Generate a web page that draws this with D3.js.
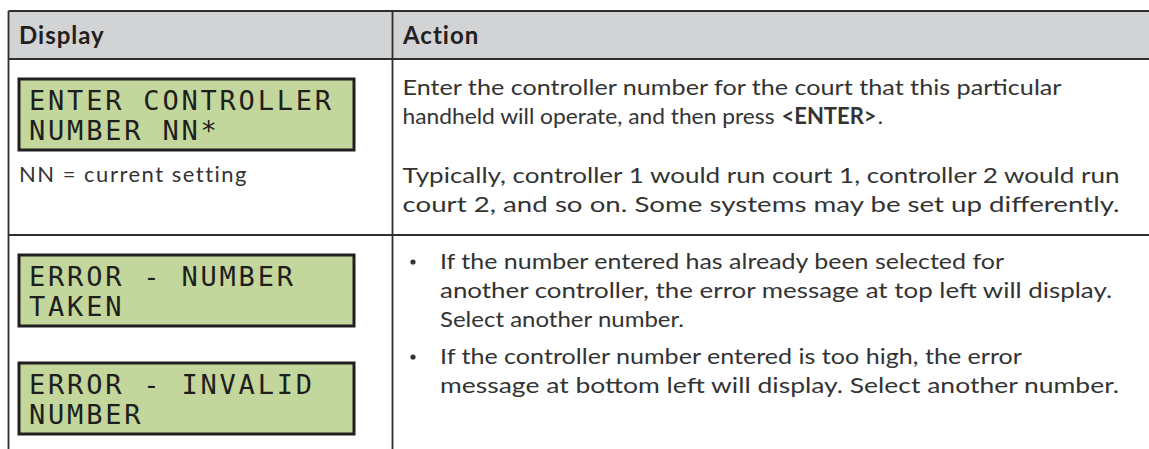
<!DOCTYPE html>
<html><head><meta charset="utf-8">
<script src="https://cdn.jsdelivr.net/npm/d3@7"></script>
<style>html,body{margin:0;padding:0;background:#fff;}svg{display:block;}</style>
</head><body>
<svg id="chart" width="1149" height="449"></svg>
<script>
// ---- content ----
const headers = ["Display", "Action"];
const lcdRow1 = [["ENTER CONTROLLER", "NUMBER NN*"]];
const lcdRow2 = [["ERROR - NUMBER", "TAKEN"], ["ERROR - INVALID", "NUMBER"]];
const noteRow1 = ["NN = current setting"];
const actionRow1 = [
  ["Enter the controller number for the court that this particular",
   ["handheld will operate, and then press", "<ENTER>", "."]],
  ["Typically, controller 1 would run court 1, controller 2 would run",
   "court 2, and so on. Some systems may be set up differently."]
];
const bulletsRow2 = [
  ["If the number entered has already been selected for",
   "another controller, the error message at top left will display.",
   "Select another number."],
  ["If the controller number entered is too high, the error",
   "message at bottom left will display. Select another number."]
];

// ---- layout (text run lengths in px, matching the typeset original) ----
const actionWidths = [[659, [372, 0, 0]], [717, 717]];
const bulletWidths = [[564, 672, 244], [582, 679]];
const W = 1149, H = 449;
const svg = d3.select("#chart");
const colX = [8.5, 392.5];
const rowY = [11, 59, 235];
const lineColor = "#2f2f2f";
const textColor = "#333";
const bodyFont = "Lato, 'Noto Sans', sans-serif";
const lcdFont = "'DejaVu Sans Mono', monospace";

// header band
svg.append("rect").attr("x", colX[0]).attr("y", rowY[0]).attr("width", W - colX[0] + 5)
  .attr("height", rowY[1] - rowY[0]).attr("fill", "#d1d3d4");

// grid lines
const g = svg.append("g").attr("stroke", lineColor).attr("stroke-width", 1.8);
rowY.forEach(y => g.append("line").attr("x1", colX[0]).attr("x2", W + 5).attr("y1", y).attr("y2", y));
colX.forEach(cx => g.append("line").attr("x1", cx).attr("x2", cx).attr("y1", rowY[0]).attr("y2", H + 5));

// header text
svg.selectAll("text.hdr").data(headers).join("text").attr("class", "hdr")
  .attr("x", (d, i) => colX[i] + 10.5).attr("y", 44)
  .attr("font-family", bodyFont).attr("font-weight", 700).attr("font-size", 24)
  .attr("letter-spacing", 1).attr("fill", "#231f20").text(d => d);

// LCD boxes
function lcd(lines, y0) {
  const gg = svg.append("g");
  gg.append("rect").attr("x", 19).attr("y", y0).attr("width", 335).attr("height", 71)
    .attr("fill", "#c3d69b").attr("stroke", "#231f20").attr("stroke-width", 3);
  gg.selectAll("text").data(lines).join("text")
    .attr("x", 29).attr("y", (d, i) => y0 + 31 + i * 30)
    .attr("font-family", lcdFont).attr("font-size", 27).attr("letter-spacing", 2.8)
    .attr("fill", "#1e1e1e").text(d => d);
}
lcd(lcdRow1[0], 79);
lcd(lcdRow2[0], 255);
lcd(lcdRow2[1], 363);

const fs = 22;
svg.append("text").attr("x", 19).attr("y", 182).attr("font-family", bodyFont)
  .attr("font-size", fs).attr("letter-spacing", 1.5).attr("fill", textColor).text(noteRow1[0]);

// body text helper
function seg(xp, y, s, width, bold) {
  const t = svg.append("text").attr("x", xp).attr("y", y).attr("font-family", bodyFont)
    .attr("font-size", fs).attr("fill", textColor).attr("font-weight", bold ? 700 : 400).text(s);
  if (width) t.attr("textLength", width).attr("lengthAdjust", "spacingAndGlyphs");
  return t;
}
function line(xp, y, content, width) {
  if (Array.isArray(content)) {
    let cx = xp;
    content.forEach((s, i) => {
      const t = seg(cx, y, s, width[i], i === 1);
      cx += (width[i] || t.node().getComputedTextLength()) + (i === 0 ? 7 : 1);
    });
  } else seg(xp, y, content, width, false);
}
const ax = colX[1] + 10;
const aY = [[95, 124], [183, 212]];
actionRow1.forEach((p, pi) => p.forEach((s, li) => line(ax, aY[pi][li], s, actionWidths[pi][li])));

const bY = [[269, 298, 327], [364, 393]];
bulletsRow2.forEach((b, bi) => {
  svg.append("circle").attr("cx", 413).attr("cy", bY[bi][0] - 7).attr("r", 2.6).attr("fill", textColor);
  b.forEach((s, li) => line(440, bY[bi][li], s, bulletWidths[bi][li]));
});
</script>
</body></html>
